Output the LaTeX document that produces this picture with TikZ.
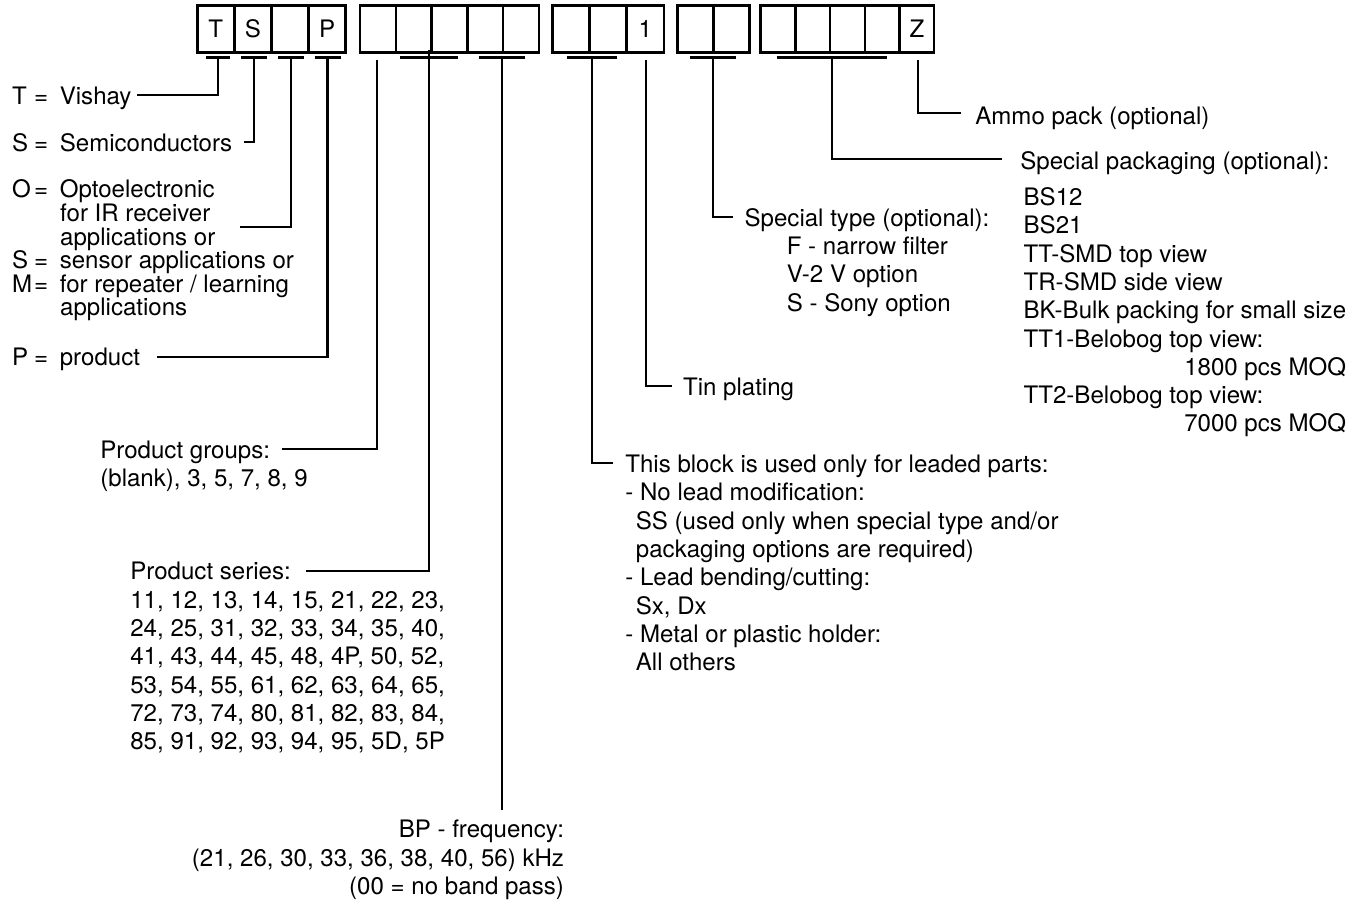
\documentclass[tikz,border=0pt]{standalone}
\usepackage{fontspec}
\setmainfont{TeX Gyre Heros}

\newcommand{\keyeq}[1]{\makebox[12.6pt][l]{#1}=\hspace{6.6pt}}
\newcommand{\indentline}{\hspace*{27.4pt}}
\newcommand{\moq}[1]{\hphantom{BK-Bulk packing for small size}\llap{#1}}

\begin{document}
\begin{tikzpicture}[x=0.02cm, y=-0.02cm,
    codecell/.style={draw, line width=1.4pt, minimum height=0.94cm, inner sep=0pt},
    leader/.style={line width=1.2pt},
    txt/.style={font=\fontsize{13.7}{16.1}\selectfont, inner sep=0pt, align=left, anchor=north west},
    keytxt/.style={txt, font=\fontsize{13.7}{13.42}\selectfont},
    celltxt/.style={font=\fontsize{13.7}{16.1}\selectfont, inner sep=0pt}]

    \useasboundingbox (0,0) rectangle (1356,900);

    % Code boxes
    \foreach \g/\gx/\cw/\nc in {a/197.3/37.1/4, b/360/35.8/5, c/552.3/37.2/3, d/677.7/35.8/2, e/760.7/34.7/5}
        \foreach \i in {1,...,\nc}
            \node[codecell, minimum width={\cw*0.02cm}] (\g\i) at ({\gx+(\i-0.5)*\cw},29.2) {};

    % Fixed characters
    \node[celltxt] (chT) at (a1) {T};
    \node[celltxt] (chS) at (a2) {S};
    \node[celltxt] (chP) at (a4) {P};
    \node[celltxt] (ch1) at (c3) {1};
    \node[celltxt] (chZ) at (e5) {Z};

    % Tick marks below the boxes
    \foreach \h/\x/\w in {hT/218/12, hS/254/13, hO/291/13, hP/327.5/13, hB/429/29, hF/501.7/23, hL/591.7/25, hD/712.7/23, hK/831.7/55}
    {
        \coordinate (\h) at (\x,57.5);
        \draw[leader] (\h) ++(-\w,0) -- ++(2*\w,0);
    }
    \coordinate (hG) at (377.3,60);
    \coordinate (hN) at (646,60);
    \coordinate (hZ) at (917.7,60);

    % Leader ends
    \coordinate (eT) at (137,95);
    \coordinate (eS) at (244,141.7);
    \coordinate (eO) at (240,226.7);
    \coordinate (eP) at (156.7,356.7);
    \coordinate (eG) at (281.7,449.3);
    \coordinate (eB) at (306,570.7);
    \coordinate (eF) at (501.7,810);
    \coordinate (eL) at (613,463.3);
    \coordinate (eN) at (671.7,386);
    \coordinate (eD) at (732.7,216.7);
    \coordinate (eK) at (1001.7,159);
    \coordinate (eZ) at (961,113.3);

    % Leaders
    \draw[leader] (hT) |- (eT);
    \draw[leader] (hS) |- (eS);
    \draw[leader] (hO) |- (eO);
    \draw[leader] (hP) |- (eP);
    \draw[leader] (hG) |- (eG);
    \draw[leader] (hB) ++(0,-8) |- (eB);
    \draw[leader] (hF) -- (eF);
    \draw[leader] (hL) |- (eL);
    \draw[leader] (hN) |- (eN);
    \draw[leader] (hD) |- (eD);
    \draw[leader] (hK) |- (eK);
    \draw[leader] (hZ) |- (eZ);

    % Left column
    \node[keytxt] (vishay) at (11.7,86.3) {\keyeq{T}Vishay};
    \node[keytxt] (semi) at (11.7,133) {\keyeq{S}Semiconductors};
    \node[keytxt] (opto) at (11.7,179.6) {\keyeq{O}Optoelectronic\\
        \indentline for IR receiver\\
        \indentline applications or\\
        \keyeq{S}sensor applications or\\
        \keyeq{M}for repeater / learning\\
        \indentline applications};
    \node[keytxt] (prod) at (11.7,348) {\keyeq{P}product};

    % Product groups and series
    \node[txt] (groups) at (100,440.5) {Product groups:\\(blank), 3, 5, 7, 8, 9};
    \node[txt] (series) at (130,562) {Product series:\\
        11, 12, 13, 14, 15, 21, 22, 23,\\
        24, 25, 31, 32, 33, 34, 35, 40,\\
        41, 43, 44, 45, 48, 4P, 50, 52,\\
        53, 54, 55, 61, 62, 63, 64, 65,\\
        72, 73, 74, 80, 81, 82, 83, 84,\\
        85, 91, 92, 93, 94, 95, 5D, 5P};
    \node[txt, anchor=north east, align=right] (bpfreq) at (564.3,820) {BP - frequency:\\
        (21, 26, 30, 33, 36, 38, 40, 56) kHz\\
        (00 = no band pass)};

    % Lead block
    \node[txt] (leaded) at (625,454.6) {This block is used only for leaded parts:\\
        - No lead modification:\\
        \hspace*{6pt}SS (used only when special type and/or\\
        \hspace*{6pt}packaging options are required)\\
        - Lead bending/cutting:\\
        \hspace*{6pt}Sx, Dx\\
        - Metal or plastic holder:\\
        \hspace*{6pt}All others};
    \node[txt] (tin) at (682.7,377.3) {Tin plating};

    % Options
    \node[txt] (stype) at (744.3,208) {Special type (optional):\\
        \hspace*{24pt}F - narrow filter\\
        \hspace*{24pt}V-2 V option\\
        \hspace*{24pt}S - Sony option};
    \node[txt] (ammo) at (975,106.3) {Ammo pack (optional)};
    \node[txt] (pkghead) at (1020,151.3) {Special packaging (optional):};
    \node[txt] (pkglist) at (1023.3,187.3) {BS12\\
        BS21\\
        TT-SMD top view\\
        TR-SMD side view\\
        BK-Bulk packing for small size\\
        TT1-Belobog top view:\\
        \moq{1800 pcs MOQ}\\
        TT2-Belobog top view:\\
        \moq{7000 pcs MOQ}};

\end{tikzpicture}
\end{document}
